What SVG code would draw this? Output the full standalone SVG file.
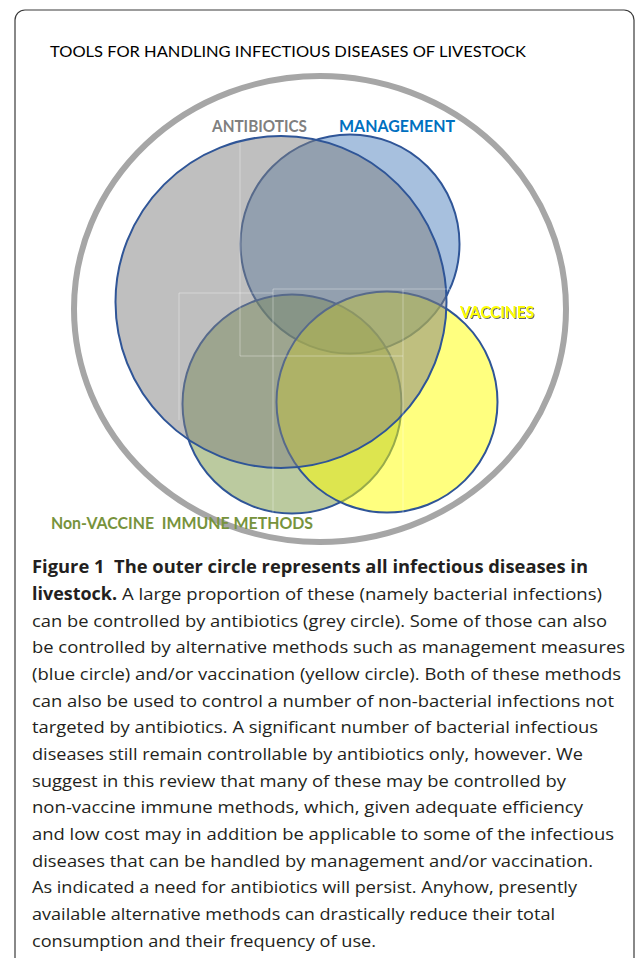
<svg xmlns="http://www.w3.org/2000/svg" width="636" height="958" viewBox="0 0 636 958">
<defs>
<style>
.frame{fill:none;stroke:#3a3a3a;stroke-width:1.2}
.set{stroke:#2f5597;stroke-width:2}
.lab{font-family:Lato,"Open Sans","Liberation Sans",sans-serif;font-weight:bold;font-size:17px}
.title{font-family:Lato,"Open Sans","Liberation Sans",sans-serif;font-size:15px;fill:#000}
.cap{font-family:"Open Sans","Noto Sans","Liberation Sans",sans-serif;font-size:17px;fill:#231f20}
.b{font-weight:bold}
.pre{white-space:pre}
.ghost{stroke:#ffffff;stroke-opacity:0.35;stroke-width:1;fill:none}
</style>
<filter id="shadow" x="-10%" y="-30%" width="130%" height="170%">
<feDropShadow dx="1" dy="1" stdDeviation="0.6" flood-color="#404040" flood-opacity="0.8"/>
</filter>
</defs>
<rect width="636" height="958" fill="#ffffff"/>
<path class="frame" d="M15,958 V20 A10,10 0 0 1 25,10 H624 A10,10 0 0 1 634,20 V958"/>
<text class="title" x="50" y="57" textLength="476" lengthAdjust="spacingAndGlyphs">TOOLS FOR HANDLING INFECTIOUS DISEASES OF LIVESTOCK</text>

<g id="all-diseases">
<ellipse cx="320" cy="309" rx="246" ry="233" fill="none" stroke="#a6a6a6" stroke-width="6"/>
</g>
<g id="management">
<circle class="set" cx="350" cy="244" r="109.5" fill="#4f81bd" fill-opacity="0.5"/>
</g>
<g id="non-vaccine-immune">
<circle class="set" cx="292" cy="404" r="109.5" fill="#789640" fill-opacity="0.5"/>
</g>
<g id="vaccines">
<circle class="set" cx="387" cy="402" r="110.5" fill="#ffff00" fill-opacity="0.5"/>
</g>
<g id="antibiotics">
<ellipse class="set" cx="281" cy="302" rx="165.5" ry="166" fill="#7f7f7f" fill-opacity="0.5"/>
</g>
<g id="artifacts">
<path class="ghost" d="M240,143 V356 H403 M179,293 H273 M273,289 H450 V300 M179,293 V420 M273,289 V517 M403,289 V517"/>
</g>

<g id="labels">
<text class="lab" x="212" y="132" fill="#7f7f7f" textLength="95" lengthAdjust="spacingAndGlyphs">ANTIBIOTICS</text>
<text class="lab" x="339" y="132" fill="#0070c0" textLength="116" lengthAdjust="spacingAndGlyphs">MANAGEMENT</text>
<text class="lab" x="460" y="318" fill="#ffff00" filter="url(#shadow)" textLength="74" lengthAdjust="spacingAndGlyphs">VACCINES</text>
<text class="lab pre" xml:space="preserve" x="51" y="529" fill="#77933c" textLength="262" lengthAdjust="spacingAndGlyphs">Non-VACCINE  IMMUNE METHODS</text>
</g>

<g id="caption">
<text class="cap b pre" xml:space="preserve" x="32" y="573" textLength="556" lengthAdjust="spacingAndGlyphs">Figure 1  The outer circle represents all infectious diseases in</text>
<text class="cap" y="600"><tspan class="b" x="32" textLength="85" lengthAdjust="spacingAndGlyphs">livestock.</tspan><tspan x="122" textLength="480" lengthAdjust="spacingAndGlyphs">A large proportion of these (namely bacterial infections)</tspan></text>
<text class="cap" x="32" y="627" textLength="575" lengthAdjust="spacingAndGlyphs">can be controlled by antibiotics (grey circle). Some of those can also</text>
<text class="cap" x="32" y="653" textLength="593" lengthAdjust="spacingAndGlyphs">be controlled by alternative methods such as management measures</text>
<text class="cap" x="32" y="680" textLength="589" lengthAdjust="spacingAndGlyphs">(blue circle) and/or vaccination (yellow circle). Both of these methods</text>
<text class="cap" x="32" y="707" textLength="582" lengthAdjust="spacingAndGlyphs">can also be used to control a number of non-bacterial infections not</text>
<text class="cap" x="32" y="733" textLength="566" lengthAdjust="spacingAndGlyphs">targeted by antibiotics. A significant number of bacterial infectious</text>
<text class="cap" x="32" y="760" textLength="551" lengthAdjust="spacingAndGlyphs">diseases still remain controllable by antibiotics only, however. We</text>
<text class="cap" x="32" y="787" textLength="534" lengthAdjust="spacingAndGlyphs">suggest in this review that many of these may be controlled by</text>
<text class="cap" x="32" y="813" textLength="551" lengthAdjust="spacingAndGlyphs">non-vaccine immune methods, which, given adequate efficiency</text>
<text class="cap" x="32" y="840" textLength="582" lengthAdjust="spacingAndGlyphs">and low cost may in addition be applicable to some of the infectious</text>
<text class="cap" x="32" y="867" textLength="561" lengthAdjust="spacingAndGlyphs">diseases that can be handled by management and/or vaccination.</text>
<text class="cap" x="32" y="893" textLength="545" lengthAdjust="spacingAndGlyphs">As indicated a need for antibiotics will persist. Anyhow, presently</text>
<text class="cap" x="32" y="920" textLength="523" lengthAdjust="spacingAndGlyphs">available alternative methods can drastically reduce their total</text>
<text class="cap" x="32" y="947" textLength="344" lengthAdjust="spacingAndGlyphs">consumption and their frequency of use.</text>
</g>
</svg>
